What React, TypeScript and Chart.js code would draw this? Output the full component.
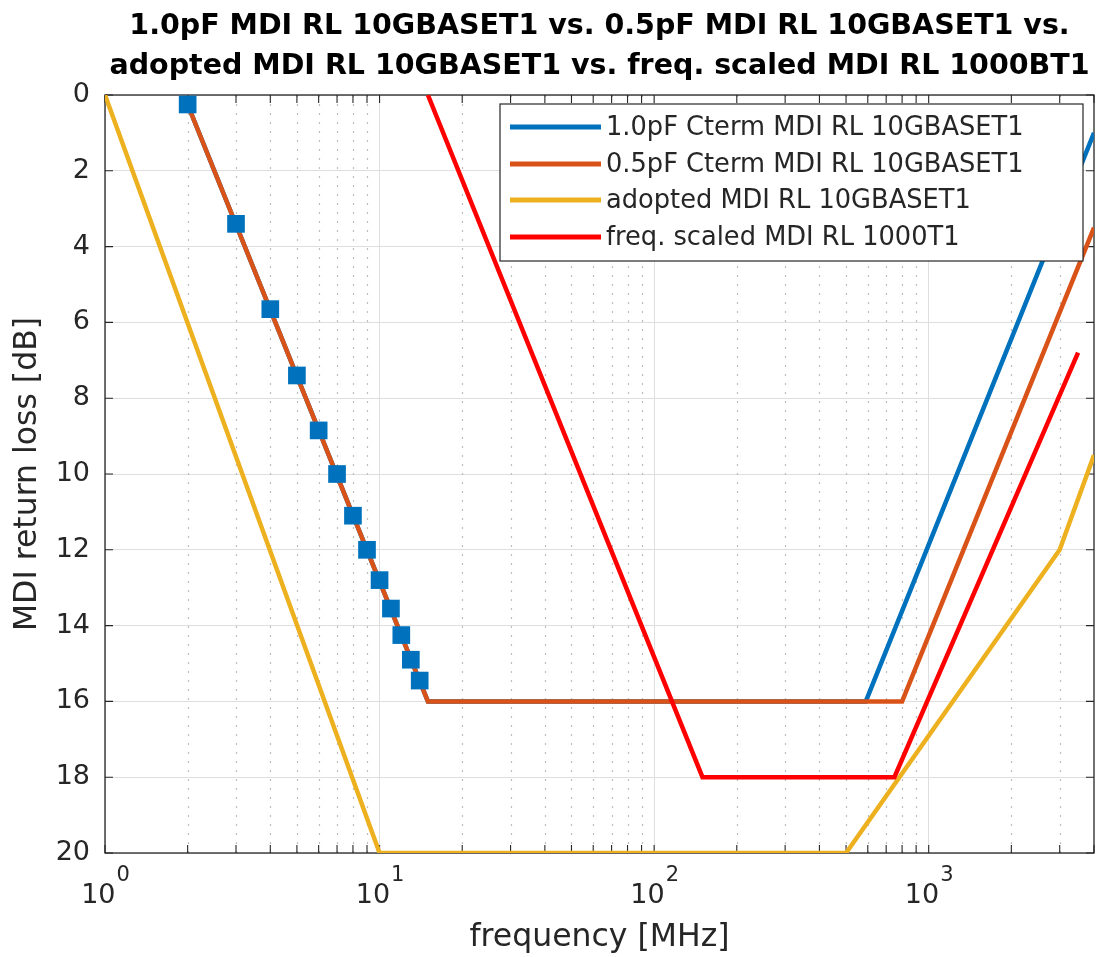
import React, { useEffect, useRef } from 'react';
import { Chart, registerables } from 'chart.js';

Chart.register(...registerables);

// ---------- data ----------
const titleLines = [
  '1.0pF MDI RL 10GBASET1 vs. 0.5pF MDI RL 10GBASET1 vs.',
  'adopted MDI RL 10GBASET1 vs. freq. scaled MDI RL 1000BT1',
];
const xAxisTitle = 'frequency [MHz]';
const yAxisTitle = 'MDI return loss [dB]';

const seriesLabels = [
  '1.0pF Cterm MDI RL 10GBASET1',
  '0.5pF Cterm MDI RL 10GBASET1',
  'adopted MDI RL 10GBASET1',
  'freq. scaled MDI RL 1000T1',
];
const seriesColors = ['#0072BD', '#D95319', '#EDB120', '#FF0000'];

const blueFreq = [2, 15, 590, 4000];
const blueRL = [0.25, 16, 16, 1];

const markerFreq = [2, 3, 4, 5, 6, 7, 8, 9, 10, 11, 12, 13, 14];
const markerRL = [0.25, 3.4, 5.65, 7.4, 8.85, 10.0, 11.1, 12.0, 12.8, 13.55, 14.25, 14.9, 15.45];

const orangeFreq = [2, 15, 800, 4000];
const orangeRL = [0.25, 16, 16, 3.5];

const yellowFreq = [1, 10, 500, 3000, 4000];
const yellowRL = [0, 20, 20, 12, 9.5];

const redFreq = [15, 150, 750, 3500];
const redRL = [0, 18, 18, 6.8];

const xMin = 1;
const xMax = 4000;
const xTickValues = [
  1, 2, 3, 4, 5, 6, 7, 8, 9,
  10, 20, 30, 40, 50, 60, 70, 80, 90,
  100, 200, 300, 400, 500, 600, 700, 800, 900,
  1000, 2000, 3000, 4000,
];
const xDecades = [1, 10, 100, 1000];
const xDecadeExponents = ['0', '1', '2', '3'];

const yMin = 0;
const yMax = 20;
const yStep = 2;

// ---------- styling ----------
const FONT = '"DejaVu Sans", "Liberation Sans", Arial, sans-serif';
const AXIS_COLOR = '#262626';
const GRID_COLOR = '#dedede';
const MINOR_GRID_COLOR = '#bdbdbd';

const toPoints = (xs: number[], ys: number[]) => xs.map((x, i) => ({ x, y: ys[i] }));

const isDecade = (v: number) => xDecades.includes(v);

const minorGridPlugin = {
  id: 'minorGridAndBox',
  beforeDatasetsDraw(chart: any) {
    const { ctx, chartArea } = chart;
    const xs = chart.scales.x;
    const ys = chart.scales.y;
    ctx.save();
    // dotted minor grid
    ctx.strokeStyle = MINOR_GRID_COLOR;
    ctx.lineWidth = 1.2;
    ctx.setLineDash([2, 7]);
    xTickValues.forEach((v) => {
      if (isDecade(v) || v >= xMax) return;
      const px = Math.round(xs.getPixelForValue(v)) + 0.5;
      ctx.beginPath();
      ctx.moveTo(px, chartArea.top);
      ctx.lineTo(px, chartArea.bottom);
      ctx.stroke();
    });
    ctx.setLineDash([]);
    // box
    ctx.strokeStyle = AXIS_COLOR;
    ctx.lineWidth = 1.3;
    ctx.strokeRect(chartArea.left, chartArea.top, chartArea.right - chartArea.left, chartArea.bottom - chartArea.top);
    // inward ticks
    const tl = 8;
    ctx.lineWidth = 1.1;
    xTickValues.forEach((v) => {
      const px = xs.getPixelForValue(v);
      ctx.beginPath();
      ctx.moveTo(px, chartArea.bottom);
      ctx.lineTo(px, chartArea.bottom - tl);
      ctx.moveTo(px, chartArea.top);
      ctx.lineTo(px, chartArea.top + tl);
      ctx.stroke();
    });
    for (let v = yMin; v <= yMax; v += yStep) {
      const py = ys.getPixelForValue(v);
      ctx.beginPath();
      ctx.moveTo(chartArea.left, py);
      ctx.lineTo(chartArea.left + tl, py);
      ctx.moveTo(chartArea.right, py);
      ctx.lineTo(chartArea.right - tl, py);
      ctx.stroke();
    }
    ctx.restore();
  },
};

const decorPlugin = {
  id: 'decor',
  afterDraw(chart: any) {
    const { ctx, chartArea } = chart;
    const xs = chart.scales.x;
    ctx.save();
    // title
    ctx.fillStyle = '#000';
    ctx.font = `bold 28.5px ${FONT}`;
    ctx.textAlign = 'center';
    ctx.textBaseline = 'alphabetic';
    const cx = (chartArea.left + chartArea.right) / 2;
    ctx.fillText(titleLines[0], cx, 34);
    ctx.fillText(titleLines[1], cx, 74);

    // x tick labels 10^n
    ctx.fillStyle = AXIS_COLOR;
    xDecades.forEach((v, i) => {
      const px = xs.getPixelForValue(v);
      ctx.font = `27px ${FONT}`;
      const wb = ctx.measureText('10').width;
      ctx.font = `21px ${FONT}`;
      const we = ctx.measureText(xDecadeExponents[i]).width;
      const start = px - (wb + we) / 2;
      ctx.textAlign = 'left';
      ctx.font = `27px ${FONT}`;
      ctx.fillText('10', start, chartArea.bottom + 50);
      ctx.font = `21px ${FONT}`;
      ctx.fillText(xDecadeExponents[i], start + wb + 1, chartArea.bottom + 28);
    });

    // legend
    const bx = 500, by = 104, bw = 583, bh = 157;
    ctx.fillStyle = '#fff';
    ctx.fillRect(bx, by, bw, bh);
    ctx.strokeStyle = AXIS_COLOR;
    ctx.lineWidth = 1.2;
    ctx.strokeRect(bx, by, bw, bh);
    const rows = [127, 164, 200, 237];
    ctx.font = `25.7px ${FONT}`;
    ctx.textBaseline = 'middle';
    ctx.textAlign = 'left';
    const legendSets = chart.data.datasets.filter((d: any) => d.inLegend);
    legendSets.forEach((d: any, i: number) => {
      const y = rows[i];
      ctx.strokeStyle = d.borderColor;
      ctx.lineWidth = 5;
      ctx.beginPath();
      ctx.moveTo(510, y);
      ctx.lineTo(601, y);
      ctx.stroke();
      ctx.fillStyle = AXIS_COLOR;
      ctx.fillText(d.label, 606, y + 1);
    });
    ctx.restore();
  },
};

export default function App() {
  const canvasRef = useRef<HTMLCanvasElement | null>(null);

  useEffect(() => {
    if (!canvasRef.current) return;
    const lineDs = (label: string, color: string, pts: any[], order: number) => ({
      label,
      data: pts,
      borderColor: color,
      backgroundColor: color,
      borderWidth: 4.5,
      pointRadius: 0,
      tension: 0,
      order,
      inLegend: true,
    });
    const chart = new Chart(canvasRef.current, {
      type: 'line',
      data: {
        datasets: [
          lineDs(seriesLabels[0], seriesColors[0], toPoints(blueFreq, blueRL), 5),
          lineDs(seriesLabels[1], seriesColors[1], toPoints(orangeFreq, orangeRL), 4),
          lineDs(seriesLabels[2], seriesColors[2], toPoints(yellowFreq, yellowRL), 3),
          lineDs(seriesLabels[3], seriesColors[3], toPoints(redFreq, redRL), 2),
          {
            label: 'markers',
            data: toPoints(markerFreq, markerRL),
            showLine: false,
            pointStyle: 'rect',
            pointRadius: 12.5,
            pointBackgroundColor: seriesColors[0],
            pointBorderWidth: 0,
            borderColor: seriesColors[0],
            order: 1,
            inLegend: false,
          } as any,
        ] as any,
      },
      options: {
        animation: false,
        responsive: true,
        maintainAspectRatio: false,
        events: [],
        layout: { autoPadding: false, padding: { top: 95, right: 3, left: 0, bottom: 0 } },
        plugins: {
          legend: { display: false },
          tooltip: { enabled: false },
          title: { display: false },
        },
        scales: {
          x: {
            type: 'logarithmic',
            min: xMin,
            max: xMax,
            afterBuildTicks: (s: any) => {
              s.ticks = xTickValues.map((v) => ({ value: v, major: isDecade(v) }));
            },
            afterFit: (s: any) => {
              s.height = 104;
            },
            ticks: { display: false, autoSkip: false },
            grid: {
              color: (c: any) => (c.tick && isDecade(c.tick.value) ? GRID_COLOR : 'rgba(0,0,0,0)'),
              lineWidth: 1,
              drawTicks: false,
            },
            border: { display: false },
            title: {
              display: true,
              text: xAxisTitle,
              color: AXIS_COLOR,
              font: { family: FONT, size: 31.5 },
              padding: { top: 0, bottom: 0 },
            },
          },
          y: {
            type: 'linear',
            min: yMin,
            max: yMax,
            reverse: true,
            afterFit: (s: any) => {
              s.width = 105;
            },
            ticks: {
              stepSize: yStep,
              padding: 15,
              color: AXIS_COLOR,
              font: { family: FONT, size: 27 },
            },
            grid: { color: GRID_COLOR, lineWidth: 1, drawTicks: false },
            border: { display: false },
            title: {
              display: true,
              text: yAxisTitle,
              color: AXIS_COLOR,
              font: { family: FONT, size: 31.5 },
              padding: { top: 9, bottom: 0 },
            },
          },
        },
      } as any,
      plugins: [minorGridPlugin, decorPlugin],
    });
    return () => chart.destroy();
  }, []);

  return (
    <div
      style={{
        position: 'fixed',
        left: 0,
        top: 0,
        width: '1097px',
        height: '957px',
        background: '#fff',
      }}
    >
      <canvas ref={canvasRef} />
    </div>
  );
}
